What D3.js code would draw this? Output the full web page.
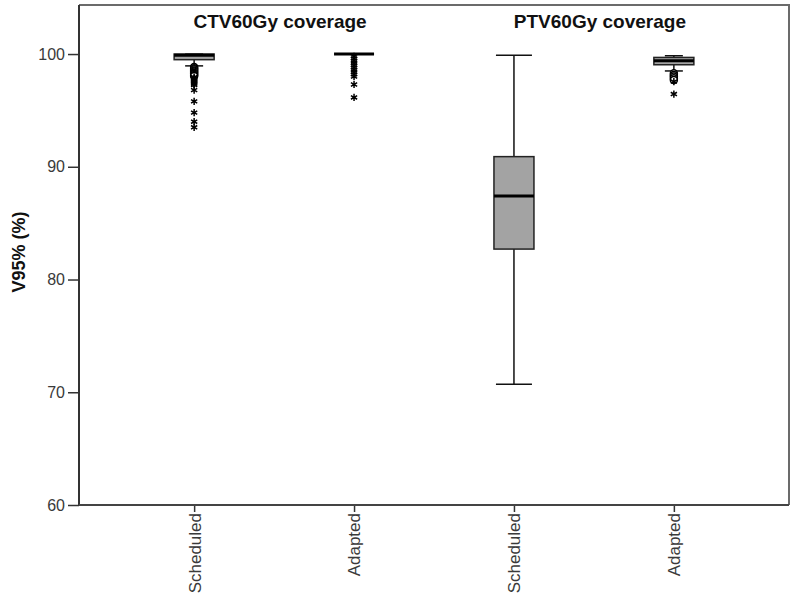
<!DOCTYPE html>
<html>
<head>
<meta charset="utf-8">
<script src="https://cdn.jsdelivr.net/npm/d3@7"></script>
<style>
  html, body { margin: 0; padding: 0; background: #fff; }
  svg { display: block; font-family: "Liberation Sans", Arial, sans-serif; }
</style>
</head>
<body>
<svg id="chart" width="794" height="612"></svg>
<script>
// ---- data ----
const groupTitles = ["CTV60Gy coverage", "PTV60Gy coverage"];
const keys = ["CTV-Scheduled", "CTV-Adapted", "PTV-Scheduled", "PTV-Adapted"];
const tickLabels = ["Scheduled", "Adapted", "Scheduled", "Adapted"];
const whiskerLow = [98.95, 100, 70.7, 98.5];
const q1 = [99.5, 100, 82.7, 99.05];
const medians = [99.9, 100, 87.4, 99.4];
const q3 = [100, 100, 90.9, 99.7];
const whiskerHigh = [100, 100, 99.9, 99.85];
const circleOutliers = [
  [98.85, 98.75, 98.65, 98.55, 98.45, 98.35, 98.25, 98.15, 98.05],
  [],
  [],
  [98.3, 98.15, 98.0, 97.85, 97.7]
];
const starOutliers = [
  [97.95, 97.85, 97.75, 97.65, 97.55, 97.45, 97.35, 97.25, 96.8, 95.8, 94.8, 94.0, 93.5],
  [99.8, 99.6, 99.4, 99.2, 99.0, 98.8, 98.6, 98.4, 98.2, 98.0, 97.3, 96.15],
  [],
  [97.55, 96.45]
];
const yTicks = [60, 70, 80, 90, 100];
const yLabel = "V95% (%)";

// ---- layout ----
const svg = d3.select("#chart");
const W = 794, H = 612;
const m = { left: 79, top: 5, right: 5, bottom: 107 };
const x = d3.scalePoint().domain(keys).range([m.left, W - m.right]).padding(0.72);
const y = d3.scaleLinear().domain([60, 104.35]).range([H - m.bottom, m.top]);
const boxW = 40;

// frame (top, right)
svg.append("path")
  .attr("d", `M${m.left},${m.top}H${W - m.right}V${H - m.bottom}`)
  .attr("fill", "none").attr("stroke", "#6b6b6b").attr("stroke-width", 2);

// y axis
const yAxis = svg.append("g").attr("transform", `translate(${m.left},0)`)
  .call(d3.axisLeft(y).tickValues(yTicks).tickSize(11).tickPadding(3).tickFormat(d3.format("d")));
yAxis.select(".domain").remove();
yAxis.selectAll(".tick line").attr("stroke", "#333").attr("stroke-width", 1.5);
yAxis.selectAll(".tick text").attr("fill", "#3a3a3a").style("font-size", "16px")
  .style("font-family", "'Liberation Sans', Arial, sans-serif");
svg.append("line").attr("x1", m.left).attr("x2", m.left).attr("y1", m.top).attr("y2", H - m.bottom)
  .attr("stroke", "#333").attr("stroke-width", 2);

// x axis
const xAxis = svg.append("g").attr("transform", `translate(0,${H - m.bottom})`)
  .call(d3.axisBottom(x).tickSize(7).tickPadding(3).tickFormat((d, i) => tickLabels[i]));
xAxis.select(".domain").remove();
xAxis.selectAll(".tick line").attr("stroke", "#333").attr("stroke-width", 1.5);
xAxis.selectAll(".tick text")
  .attr("fill", "#3a3a3a").style("font-size", "17px")
  .style("font-family", "'Liberation Sans', Arial, sans-serif")
  .attr("transform", "rotate(-90)")
  .attr("text-anchor", "end").attr("dy", "0.35em").attr("x", -8).attr("y", 0);
svg.append("line").attr("x1", m.left).attr("x2", W - m.right).attr("y1", H - m.bottom).attr("y2", H - m.bottom)
  .attr("stroke", "#444").attr("stroke-width", 2);

// y label
svg.append("text")
  .attr("transform", `translate(25,252) rotate(-90)`)
  .attr("text-anchor", "middle")
  .style("font-size", "18px").style("font-weight", "bold").attr("fill", "#111")
  .text(yLabel);

// group titles
groupTitles.forEach((t, gi) => {
  const cx = (x(keys[gi * 2]) + x(keys[gi * 2 + 1])) / 2 + 6;
  svg.append("text").attr("x", cx).attr("y", 28).attr("text-anchor", "middle")
    .style("font-size", "19px").style("font-weight", "bold").attr("fill", "#111")
    .text(t);
});

// boxes
keys.forEach((k, i) => {
  const cx = x(k);
  const g = svg.append("g");
  const capW = boxW * (i === 2 ? 0.9 : 0.45);
  // whiskers
  g.append("line").attr("x1", cx).attr("x2", cx).attr("y1", y(whiskerHigh[i])).attr("y2", y(q3[i]))
    .attr("stroke", "#111").attr("stroke-width", 1.5);
  g.append("line").attr("x1", cx).attr("x2", cx).attr("y1", y(q1[i])).attr("y2", y(whiskerLow[i]))
    .attr("stroke", "#111").attr("stroke-width", 1.5);
  [whiskerHigh[i], whiskerLow[i]].forEach(v => {
    g.append("line").attr("x1", cx - capW / 2).attr("x2", cx + capW / 2).attr("y1", y(v)).attr("y2", y(v))
      .attr("stroke", "#111").attr("stroke-width", 1.5);
  });
  // box
  g.append("rect").attr("x", cx - boxW / 2).attr("width", boxW)
    .attr("y", y(q3[i])).attr("height", Math.max(0, y(q1[i]) - y(q3[i])))
    .attr("fill", "#a3a3a3").attr("stroke", "#222").attr("stroke-width", 1.5);
  // median
  g.append("line").attr("x1", cx - boxW / 2).attr("x2", cx + boxW / 2)
    .attr("y1", y(medians[i])).attr("y2", y(medians[i]))
    .attr("stroke", "#000").attr("stroke-width", 3);
  // outliers
  g.selectAll("circle.o").data(circleOutliers[i]).join("circle")
    .attr("cx", cx).attr("cy", d => y(d)).attr("r", 3.5)
    .attr("fill", "#fff").attr("stroke", "#000").attr("stroke-width", 1.5);
  g.selectAll("path.s").data(starOutliers[i]).join("path")
    .attr("transform", d => `translate(${cx},${y(d)})`)
    .attr("d", d3.symbol(d3.symbolAsterisk, 36))
    .attr("fill", "none").attr("stroke", "#000").attr("stroke-width", 1.5);
});
</script>
</body>
</html>
